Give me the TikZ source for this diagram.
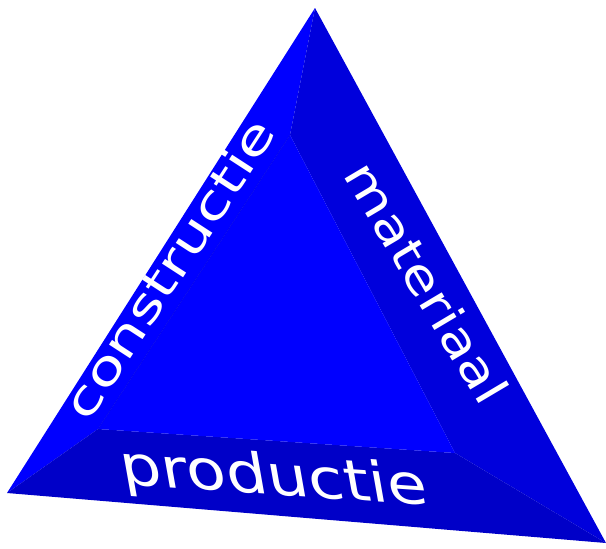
\documentclass[tikz,border=0pt]{standalone}
\usepackage{fontspec}
\setmainfont{DejaVu Sans}
\definecolor{faceleft}{RGB}{0,0,255}
\definecolor{faceright}{RGB}{0,0,220}
\definecolor{facebottom}{RGB}{0,0,200}

\begin{document}
\begin{tikzpicture}
[
    x=1pt, y=-1pt,
    facelabel/.style={text=white, inner sep=0pt, anchor=base},
]
\useasboundingbox (0,0) rectangle (606,549);
% outer and inner corners
\coordinate (top) at (315,8);
\coordinate (left) at (7,493);
\coordinate (right) at (606,543);
\coordinate (itop) at (290,135);
\coordinate (ileft) at (98,429);
\coordinate (iright) at (455,453);
% faces
\fill[faceleft] (top) -- (left) -- (ileft) -- (itop) -- cycle;
\fill[faceright] (top) -- (itop) -- (iright) -- (right) -- cycle;
\fill[facebottom] (left) -- (right) -- (iright) -- (ileft) -- cycle;
\fill[faceleft] (itop) -- (ileft) -- (iright) -- cycle;
\draw[blue!90!black, line width=0.4pt] (ileft) -- (itop);
% labels
\node[facelabel, rotate=57, xscale=1.35, font=\fontsize{46}{46}\selectfont]
    (constructie) at (183,278) {constructie};
\node[facelabel, rotate=-59.3, xscale=1.21, font=\fontsize{47}{47}\selectfont]
    (materiaal) at (411.6,291.5) {materiaal};
\node[facelabel, rotate=-4, xslant=-0.25, xscale=1.18, font=\fontsize{55}{55}\selectfont]
    (productie) at (277,495) {productie};
\end{tikzpicture}
\end{document}
